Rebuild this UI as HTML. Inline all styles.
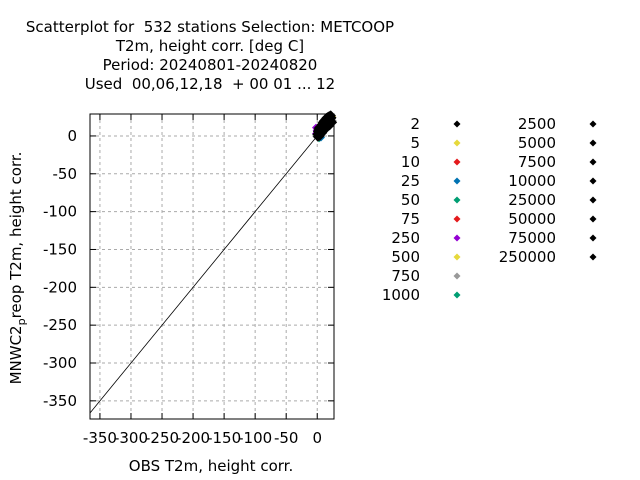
<!DOCTYPE html>
<html><head><meta charset="utf-8"><style>
body{margin:0;background:#fff;}
svg{display:block;font-family:"DejaVu Sans","Liberation Sans",sans-serif;}
text{white-space:pre;}
</style></head><body>
<svg id="c" width="640" height="480">
<g font-size="15" text-anchor="middle" fill="#000">
<text x="210" y="32">Scatterplot for  532 stations Selection: METCOOP</text>
<text x="210" y="51">T2m, height corr. [deg C]</text>
<text x="210" y="70">Period: 20240801-20240820</text>
<text x="210" y="89">Used  00,06,12,18  + 00 01 ... 12</text>
</g>
<text x="211" y="471" font-size="15" text-anchor="middle">OBS T2m, height corr.</text>
<text transform="translate(21,268) rotate(-90)" font-size="15" text-anchor="middle">MNWC2<tspan font-size="11" dy="4">p</tspan><tspan dy="-4">reop T2m, height corr.</tspan></text>
<g id="grid"></g><g id="marks"></g><g id="axes"></g><g id="legend"></g>
</svg>
<script>
const xTicks=[-350,-300,-250,-200,-150,-100,-50,0];
const yTicks=[0,-50,-100,-150,-200,-250,-300,-350];
const legendLabels=["2","5","10","25","50","75","250","500","750","1000","2500","5000","7500","10000","25000","50000","75000","250000"];
const legendColors=["#000","#e6d93c","#e41a1c","#0072b2","#009e73","#e41a1c","#9400d3","#e6d93c","#999","#009e73","#000","#000","#000","#000","#000","#000","#000","#000"];
const clusterX=[0,2,4,6,8,10,12,14,16,18,20,22,1,5,9,13,17,21,3,7,11,15,19,23,2,6,10,14,18,22,4,8,12,16,20,24,1,3,5,7,9,11,13,15,17,19,21,23];
const clusterY=[2,4,5,7,9,11,13,15,17,19,21,23,-1,3,8,12,16,20,6,10,14,18,22,24,9,13,17,21,25,27,0,4,8,12,14,18,6,11,12,15,18,20,22,24,25,26,27,19];
const edgeX=[-2,-1,0,2,24,22,25,20,13,18,1,-2,3,6];
const edgeY=[3,7,-1,-2,26,27,20,24,21,25,9,11,-3,-2];
const edgeC=["#9400d3","#9400d3","#009e73","#0072b2","#e6d93c","#e41a1c","#999","#e6d93c","#000","#e6d93c","#9400d3","#9400d3","#009e73","#0072b2"];
const X0=90,X1=334,Y0=114,Y1=419,XMIN=-366,XMAX=27,YMIN=-374,YMAX=29;
const sx=v=>X0+(v-XMIN)/(XMAX-XMIN)*(X1-X0);
const sy=v=>Y1-(v-YMIN)/(YMAX-YMIN)*(Y1-Y0);
const NS="http://www.w3.org/2000/svg";
function mk(t,a,p){const e=document.createElementNS(NS,t);for(const k in a)e.setAttribute(k,a[k]);p.appendChild(e);return e;}
const grid=document.getElementById('grid'),axes=document.getElementById('axes'),marks=document.getElementById('marks'),leg=document.getElementById('legend');
xTicks.forEach(v=>{const x=sx(v);
 const g=mk('line',{x1:x,x2:x,y1:Y0,y2:Y1,stroke:'#aaa','stroke-dasharray':'3,3'},grid);
 
 mk('line',{x1:x,x2:x,y1:Y1,y2:Y1-6,stroke:'#000'},axes);mk('line',{x1:x,x2:x,y1:Y0,y2:Y0+6,stroke:'#000'},axes);
 const t=mk('text',{x:x,y:443,'font-size':15,'text-anchor':'middle'},axes);t.textContent=v;
 });
yTicks.forEach(v=>{const y=sy(v);
 const g=mk('line',{x1:X0,x2:X1,y1:y,y2:y,stroke:'#aaa','stroke-dasharray':'3,3'},grid);
 
 mk('line',{x1:X0,x2:X0+6,y1:y,y2:y,stroke:'#000'},axes);mk('line',{x1:X1,x2:X1-6,y1:y,y2:y,stroke:'#000'},axes);
 const t=mk('text',{x:X0-13,y:y+5,'font-size':15,'text-anchor':'end'},axes);t.textContent=v;
 });
const fr=mk('rect',{x:X0,y:Y0,width:X1-X0,height:Y1-Y0,fill:'none',stroke:'#000'},axes);

const dl=mk('line',{x1:sx(XMIN),y1:sy(XMIN),x2:sx(XMAX),y2:sy(XMAX),stroke:'#000','stroke-width':0.8},marks);

function dia(x,y,c,r,p){return mk('path',{d:`M${x-r},${y}L${x},${y-r}L${x+r},${y}L${x},${y+r}Z`,fill:c},p);}
edgeX.forEach((v,i)=>{const d=dia(sx(v),sy(edgeY[i]),edgeC[i],4,marks);
 });
clusterX.forEach((v,i)=>{const d=dia(sx(v),sy(clusterY[i]),'#000',5,marks);
 });
legendLabels.forEach((l,i)=>{const col=i<10?0:1,row=i<10?i:i-10;const y=124+row*19;
 const lx=col?556:420,mx=col?593:457;
 const g=mk('g',{},leg);
 const t=mk('text',{x:lx,y:y+5,'font-size':15,'text-anchor':'end'},g);t.textContent=l;
 dia(mx,y,legendColors[i],3.5,g);});
</script>
</body></html>
